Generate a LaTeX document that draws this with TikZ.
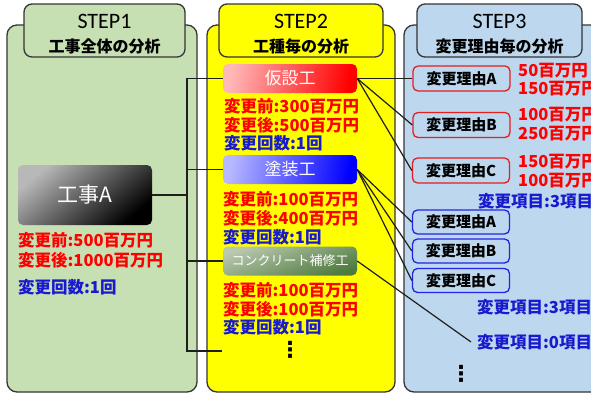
\documentclass[tikz,border=0pt]{standalone}
\usepackage{fontspec}
\setmainfont{Noto Sans CJK JP}
\newfontfamily\stepfont{Carlito}
\newfontfamily\dotfont{DejaVu Sans}
\definecolor{pgreen}{RGB}{198,224,180}
\definecolor{pyellow}{RGB}{255,255,0}
\definecolor{pblue}{RGB}{189,215,238}
\definecolor{tred}{RGB}{255,0,0}
\definecolor{tblue}{RGB}{25,25,205}
\definecolor{lnc}{RGB}{30,30,30}
\definecolor{rbord}{RGB}{230,30,30}
\definecolor{bbord}{RGB}{35,35,230}
\tikzset{
  panel/.style={draw=lnc!90, line width=1.3pt, rounded corners=10pt},
  tab/.style={draw=lnc!90, line width=1.3pt, rounded corners=8pt},
  steptitle/.style={inner sep=0, font=\stepfont\fontsize{22}{24}\selectfont},
  stepsub/.style={inner sep=0, font=\fontsize{16}{18}\selectfont\bfseries},
  redt/.style={anchor=west, inner sep=0, text=tred, font=\fontsize{16.5}{18}\selectfont\bfseries},
  bluet/.style={anchor=west, inner sep=0, text=tblue, font=\fontsize{16.5}{18}\selectfont\bfseries},
  gbox/.style={rounded corners=5pt, inner sep=0, text=white, font=\fontsize{17}{19}\selectfont},
  rbox/.style={draw=rbord, line width=1.3pt, rounded corners=5pt, fill=pblue, minimum width=97pt, minimum height=25pt, inner sep=0, font=\fontsize{15}{17}\selectfont\bfseries},
  bbox/.style={draw=bbord, line width=1.3pt, rounded corners=5pt, fill=pblue, minimum width=97pt, minimum height=24pt, inner sep=0, font=\fontsize{15}{17}\selectfont\bfseries},
  conn/.style={draw=lnc, line width=1.2pt},
  vdots/.style={inner sep=0, font=\dotfont\bfseries\fontsize{22}{24}\selectfont}
}
\begin{document}
\begin{tikzpicture}[x=1pt,y=-1pt]
\useasboundingbox (0,0) rectangle (591,394);
\clip (0,0) rectangle (591,394);
\fill[white] (0,0) rectangle (591,394);
% panels
\draw[panel, fill=pgreen] (7,25) rectangle (197,392);
\draw[tab, fill=pgreen] (24,4) rectangle (185,57);
\draw[panel, fill=pyellow] (207,25) rectangle (395,392);
\draw[tab, fill=pyellow] (219,4) rectangle (383,57);
\draw[panel, fill=pblue] (404,25) rectangle (620,392);
\draw[tab, fill=pblue] (417,4) rectangle (582,57);
% headers
\node[steptitle] (s1) at (104.5,21) {STEP1};
\node[stepsub] (s1b) at (104.5,46) {工事全体の分析};
\node[steptitle] (s2) at (301,21) {STEP2};
\node[stepsub] (s2b) at (301,46) {工種毎の分析};
\node[steptitle] (s3) at (499.5,21) {STEP3};
\node[stepsub] (s3b) at (499.5,46) {変更理由毎の分析};
% STEP1
\node[gbox, minimum width=134pt, minimum height=60pt, top color=black!28, bottom color=black, shading angle=40, font=\fontsize{21}{23}\selectfont] (koujiA) at (85,195) {工事A};
\node[redt] (k1) at (18,240) {変更前:500百万円};
\node[redt] (k2) at (18,260) {変更後:1000百万円};
\node[bluet] (k3) at (18,287) {変更回数:1回};
% STEP2
\node[gbox, minimum width=134pt, minimum height=29pt, left color=red!28!white, middle color=red!85!white, right color=red, shading angle=80] (kasetsu) at (290,78.5) {仮設工};
\node[redt] (a1) at (224,106) {変更前:300百万円};
\node[redt] (a2) at (224,125) {変更後:500百万円};
\node[bluet] (a3) at (224,143) {変更回数:1回};
\node[gbox, minimum width=134pt, minimum height=29pt, left color=blue!28!white, middle color=blue!80!white, right color=blue, shading angle=80] (tosou) at (290,169.5) {塗装工};
\node[redt] (b1) at (223,199) {変更前:100百万円};
\node[redt] (b2) at (223,218) {変更後:400百万円};
\node[bluet] (b3) at (223,237) {変更回数:1回};
\node[gbox, minimum width=134pt, minimum height=29pt, top color={rgb,255:red,185;green,200;blue,175}, bottom color={rgb,255:red,78;green,122;blue,62}, shading angle=20, font=\fontsize{13}{15}\selectfont] (conc) at (290,261) {コンクリート補修工};
\node[redt] (c1) at (223,290) {変更前:100百万円};
\node[redt] (c2) at (223,309) {変更後:100百万円};
\node[bluet] (c3) at (223,327) {変更回数:1回};
\node[vdots] (d2) at (290,350) {⋮};
% STEP3 red
\node[rbox] (rA) at (461.5,78.5) {変更理由A};
\node[rbox] (rB) at (461.5,125) {変更理由B};
\node[rbox] (rC) at (461,170.5) {変更理由C};
\node[redt] (rA1) at (518,71) {50百万円};
\node[redt] (rA2) at (518,89) {150百万円};
\node[redt] (rB1) at (518,115) {100百万円};
\node[redt] (rB2) at (518,133.5) {250百万円};
\node[redt] (rC1) at (518,162) {150百万円};
\node[redt] (rC2) at (518,181) {100百万円};
\node[bluet] (rT) at (478,201) {変更項目:3項目};
% STEP3 blue
\node[bbox] (bA) at (461,222) {変更理由A};
\node[bbox] (bB) at (461,251) {変更理由B};
\node[bbox] (bC) at (461,280.5) {変更理由C};
\node[bluet] (bT) at (477,307) {変更項目:3項目};
\node[bluet] (zT) at (477,342) {変更項目:0項目};
\node[vdots] (d3) at (461,374) {⋮};
% connectors left
\coordinate (vx) at (187,0);
\coordinate (endc) at (222,351);
\draw[conn] (koujiA.east) -- (koujiA.east -| vx);
\draw[conn] (kasetsu.west) -- (kasetsu.west -| vx) |- (endc);
\draw[conn] (tosou.west) -- (tosou.west -| vx);
\draw[conn] (conc.west) -- (conc.west -| vx);
% connectors right
\draw[conn] (kasetsu.east) -- (rA.west);
\draw[conn] (kasetsu.east) -- (rB.west);
\draw[conn] (kasetsu.east) -- (rC.west);
\draw[conn] (tosou.east) -- (bA.west);
\draw[conn] (tosou.east) -- (bB.west);
\draw[conn] (tosou.east) -- (bC.west);
\draw[conn] (conc.east) -- ([xshift=-6pt]zT.west);
\end{tikzpicture}
\end{document}
